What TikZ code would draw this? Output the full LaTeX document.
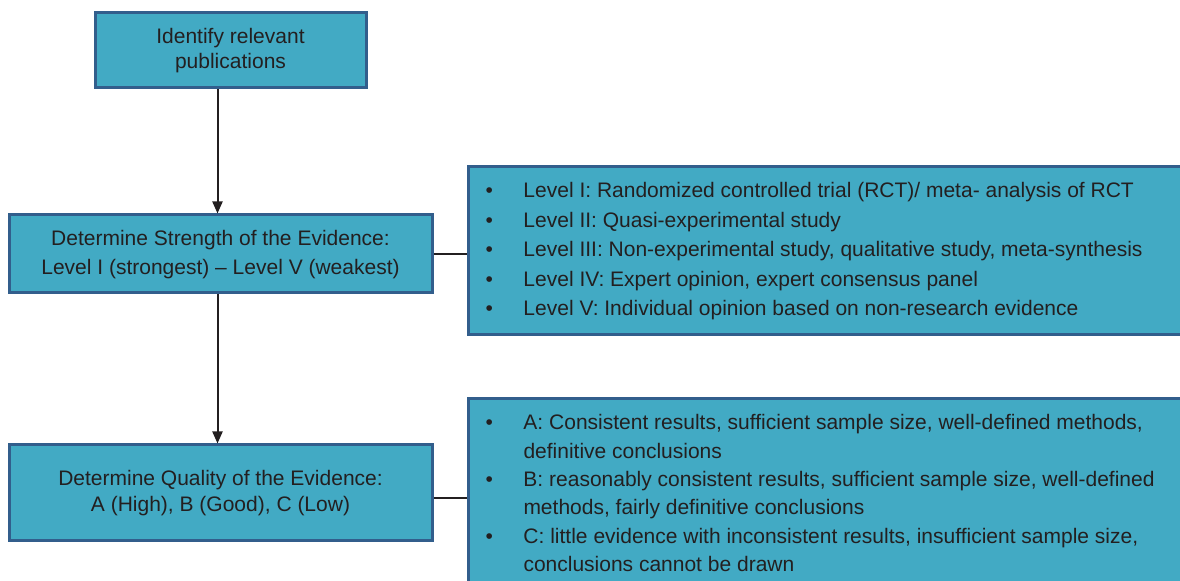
\documentclass[tikz,border=0pt]{standalone}
\usepackage{fontspec}
\setmainfont{Liberation Sans}
\usepackage{array}
\usetikzlibrary{arrows.meta,positioning,calc}
\definecolor{boxfill}{RGB}{66,170,196}
\definecolor{boxline}{RGB}{50,94,140}
\definecolor{ink}{RGB}{35,31,32}
\tikzset{
  blk/.style={draw=boxline, fill=boxfill, line width=1.5pt, align=center,
              text=ink, font=\fontsize{10.5}{12.5}\selectfont, inner sep=0pt},
  lst/.style={blk, align=left, inner xsep=8.5pt, inner ysep=0pt},
  sig/.style={-{Triangle[length=6pt,width=5pt]}, line width=1pt, draw=ink},
  tie/.style={line width=1pt, draw=ink},
}
\newcommand{\bl}{\textbullet}
\newcolumntype{L}[1]{>{\raggedright\arraybackslash}p{#1}}

\begin{document}
\begin{tikzpicture}[x=0.5pt, y=-0.5pt]
    \useasboundingbox (0,0) rectangle (1180,581);
    \clip (0,0) rectangle (1180,581);
    % left column
    \node[blk, minimum width=135.5pt, minimum height=37.5pt] (ident) at (230.5,50.5)
      {Identify relevant\\publications};
    \node[blk, minimum width=211.5pt, minimum height=39pt,
          font=\fontsize{10.5}{14.5}\selectfont] (strength) at (220.5,254)
      {\raisebox{-1pt}{\begin{tabular}{@{}c@{}}Determine Strength of the Evidence:\\
        Level I (strongest) -- Level V (weakest)\end{tabular}}};
    \node[blk, minimum width=211.5pt, minimum height=48pt,
          font=\fontsize{10.5}{13}\selectfont] (quality) at (220.5,493)
      {Determine Quality of the Evidence:\\A (High), B (Good), C (Low)};
    % right column
    \node[lst, minimum height=84pt, anchor=west,
          font=\fontsize{10.5}{14.75}\selectfont] (levels) at (467,251)
      {\raisebox{-1pt}{\begin{tabular}{@{}p{19pt}@{}L{330pt}@{}}
        \bl & Level I: Randomized controlled trial (RCT)/ meta- analysis of RCT\\
        \bl & Level II: Quasi-experimental study\\
        \bl & Level III: Non-experimental study, qualitative study, meta-synthesis\\
        \bl & Level IV: Expert opinion, expert consensus panel\\
        \bl & Level V: Individual opinion based on non-research evidence
      \end{tabular}}};
    \node[lst, minimum height=96.5pt, anchor=north west,
          font=\fontsize{10.5}{14.2}\selectfont] (grades) at (467,397)
      {\begin{tabular}{@{}p{19pt}@{}L{330pt}@{}}
        \bl & A: Consistent results, sufficient sample size, well-defined methods,\newline
              definitive conclusions\\[1pt]
        \bl & B: reasonably consistent results, sufficient sample size, well-defined\newline
              methods, fairly definitive conclusions\\[1pt]
        \bl & C: little evidence with inconsistent results, insufficient sample size,\newline
              conclusions cannot be drawn
      \end{tabular}};
    % connectors
    \draw[sig] ([xshift=-1.5pt]ident.south -| strength.north) -- ([xshift=-1.5pt]strength.north);
    \draw[sig] ([xshift=-1.5pt]strength.south) -- ([xshift=-1.5pt]quality.north);
    \draw[tie] (strength.east) -- (strength.east -| levels.west);
    \draw[tie] ([yshift=-2.5pt]quality.east) -- ([yshift=-2.5pt]quality.east -| grades.west);
  \end{tikzpicture}
\end{document}
